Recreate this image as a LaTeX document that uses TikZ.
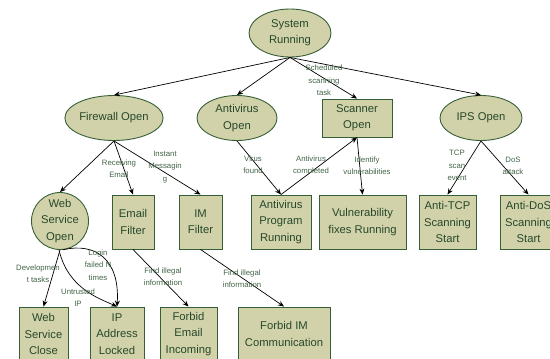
\documentclass[tikz,border=0pt]{standalone}
\usepackage{fontspec}
\setmainfont{Liberation Sans}
\usetikzlibrary{shapes.geometric,arrows.meta}
\definecolor{nodefill}{RGB}{210,210,170}
\definecolor{nodeline}{RGB}{55,95,55}
\definecolor{nodetext}{RGB}{38,72,42}
\definecolor{lbltext}{RGB}{65,100,70}
\tikzset{
  base/.style={draw=nodeline, fill=nodefill, line width=0.9bp, text=nodetext, align=center, inner sep=0pt,
    font=\fontsize{11.3}{16.3}\selectfont},
  ell/.style={base, ellipse},
  circ/.style={base, circle},
  box/.style={base, rectangle},
  lbl/.style={text=lbltext, align=center, inner sep=0pt, font=\fontsize{7.8}{12.4}\selectfont},
  arr/.style={draw=black, line width=0.7bp, -{Stealth[length=6bp,width=5bp]}},
}
\begin{document}
\begin{tikzpicture}[x=1bp,y=-1bp]
\useasboundingbox (0,0) rectangle (550,358);
\clip (0,0) rectangle (550,358);
% nodes
\node[ell, minimum width=82bp, minimum height=48bp] (sys) at (290,33) {System\\Running};
\node[ell, minimum width=82bp, minimum height=45bp] (fw) at (114,118) {Firewall Open};
\node[ell, minimum width=80bp, minimum height=45bp] (avo) at (237,118) {Antivirus\\Open};
\node[box, minimum width=70bp, minimum height=38bp] (scan) at (357,118) {Scanner\\Open};
\node[ell, minimum width=82bp, minimum height=45bp] (ips) at (481,118) {IPS Open};
\node[circ, minimum size=57bp] (ws) at (60,221) {Web\\Service\\Open};
\node[box, minimum width=42bp, minimum height=54bp] (ef) at (133,222) {Email\\Filter};
\node[box, minimum width=43bp, minimum height=54bp] (imf) at (200.5,222) {IM\\Filter};
\node[box, minimum width=60bp, minimum height=54bp] (avp) at (281,222) {Antivirus\\Program\\Running};
\node[box, minimum width=87bp, minimum height=54bp] (vf) at (362.5,222) {Vulnerability\\fixes Running};
\node[box, minimum width=57bp, minimum height=54bp] (tcp) at (447.5,222) {Anti-TCP\\Scanning\\Start};
\node[box, minimum width=57bp, minimum height=54bp] (dos) at (528.5,222) {Anti-DoS\\Scanning\\Start};
\node[box, minimum width=49bp, minimum height=54bp] (wsc) at (43.5,334) {Web\\Service\\Close};
\node[box, minimum width=54bp, minimum height=54bp] (ip) at (117,334) {IP\\Address\\Locked};
\node[box, minimum width=57bp, minimum height=54bp] (fe) at (188.5,334) {Forbid\\Email\\Incoming};
\node[box, minimum width=92bp, minimum height=54bp] (fim) at (284,334) {Forbid IM\\Communication};
% edges
\draw[arr] (sys.south) -- (fw.north);
\draw[arr] (sys.south) -- (avo.north);
\draw[arr] (sys.south) -- (scan.north);
\draw[arr] (sys.south) -- (ips.north);
\draw[arr] (fw.south) -- (ws.north);
\draw[arr] (fw.south) -- (ef.north);
\draw[arr] (fw.south) -- (imf.north);
\draw[arr] (avo.south) -- (avp.north);
\draw[arr] (avp.north) -- (scan.south);
\draw[arr] (scan.south) -- (vf.north);
\draw[arr] (ips.south) -- (tcp.north);
\draw[arr] (ips.south) -- (dos.north);
\draw[arr] (ws.south) -- (wsc.north);
\draw[arr] (ws.-92) .. controls (68,288) and (98,298) .. (ip.north);
\draw[arr] (ws.-84) .. controls (96,242) and (120,260) .. (ip.north);
\draw[arr] (ef.south) -- (fe.north);
\draw[arr] (imf.south) -- (fim.north);
% labels
\node[lbl] (l1) at (324,80.5) {Scheduled\\scanning\\task};
\node[lbl] (l2) at (119,169) {Receiving\\Email};
\node[lbl] (l3) at (165,167) {Instant\\Messagin\\g};
\node[lbl] (l4) at (253,164.5) {Virus\\found};
\node[lbl] (l5) at (311,165.5) {Antivirus\\completed};
\node[lbl] (l6) at (367,165.5) {Identify\\vulnerabilities};
\node[lbl] (l7) at (457,165.5) {TCP\\scan\\event};
\node[lbl] (l8) at (513,166) {DoS\\attack};
\node[lbl] (l9) at (38,274) {Developmen\\t tasks};
\node[lbl] (l10) at (78,297.5) {Untrusted\\IP};
\node[lbl] (l11) at (98,265) {Login\\failed N\\times};
\node[lbl] (l12) at (163,277) {Find illegal\\information};
\node[lbl] (l13) at (242,279) {Find illegal\\information};
\end{tikzpicture}
\end{document}
